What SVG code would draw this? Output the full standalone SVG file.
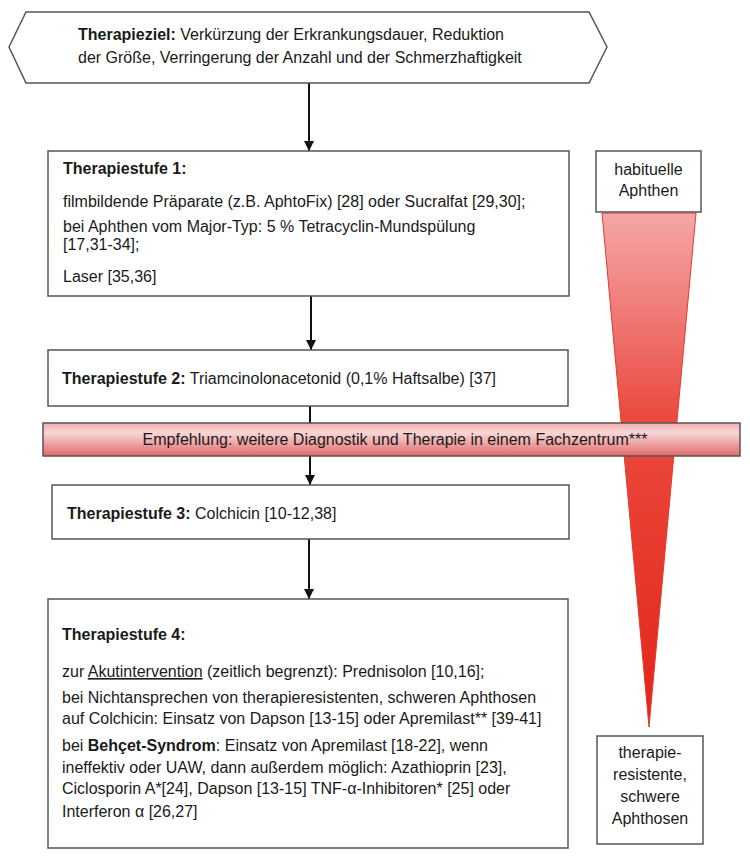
<svg xmlns="http://www.w3.org/2000/svg" width="750" height="863" viewBox="0 0 750 863">
  <style>
    .box { fill: #ffffff; stroke: #555555; stroke-width: 1.5; }
    .t { font-family: "Liberation Sans", Arial, sans-serif; font-size: 16px; fill: #1a1a1a; }
    .b { font-weight: bold; }
    .c { text-anchor: middle; }
    .conn { stroke: #111111; stroke-width: 2; fill: none; marker-end: url(#arrow); }
  </style>
  <defs>
    <marker id="arrow" viewBox="0 0 10 10" refX="10" refY="5" markerWidth="5" markerHeight="5" orient="auto" markerUnits="strokeWidth">
      <path d="M0,0 L10,5 L0,10 Z" fill="#111111"/>
    </marker>
    <linearGradient id="tri" x1="0" y1="213" x2="0" y2="727" gradientUnits="userSpaceOnUse">
      <stop offset="0" stop-color="#f5a7a7"/>
      <stop offset="0.22" stop-color="#ef7470"/>
      <stop offset="0.4" stop-color="#eb4a3c"/>
      <stop offset="1" stop-color="#e3241a"/>
    </linearGradient>
    <linearGradient id="ban" x1="0" y1="0" x2="0" y2="1">
      <stop offset="0" stop-color="#f4acac"/>
      <stop offset="0.3" stop-color="#f9d6d6"/>
      <stop offset="1" stop-color="#e06868"/>
    </linearGradient>
  </defs>

  <g id="severity-wedge">
    <polygon points="602,213 696,213 649,727" fill="url(#tri)" stroke="#e23a30" stroke-width="1"/>
  </g>

  <g id="connectors">
    <line class="conn" x1="309" y1="83" x2="309" y2="151"/>
    <line class="conn" x1="311" y1="296" x2="311" y2="350"/>
    <line class="conn" x1="310" y1="406" x2="310" y2="485"/>
    <line class="conn" x1="309" y1="539" x2="309" y2="599"/>
  </g>

  <g id="goal">
    <polygon class="box" points="26,12 589,12 607,47 589,83 26,83 9,47" stroke="#666666"/>
    <text class="t" x="78" y="40"><tspan class="b">Therapieziel:</tspan> Verkürzung der Erkrankungsdauer, Reduktion</text>
    <text class="t" x="78" y="63">der Größe, Verringerung der Anzahl und der Schmerzhaftigkeit</text>
  </g>

  <g id="stage1">
    <rect class="box" x="48" y="151" width="521" height="145"/>
    <text class="t b" x="63" y="174">Therapiestufe 1:</text>
    <text class="t" x="63" y="207">filmbildende Präparate (z.B. AphtoFix) [28] oder Sucralfat [29,30];</text>
    <text class="t" x="63" y="232">bei Aphthen vom Major-Typ: 5 % Tetracyclin-Mundspülung</text>
    <text class="t" x="63" y="250">[17,31-34];</text>
    <text class="t" x="63" y="282">Laser [35,36]</text>
  </g>

  <g id="stage2">
    <rect class="box" x="48" y="350" width="520" height="56"/>
    <text class="t" x="62" y="384"><tspan class="b">Therapiestufe 2:</tspan> Triamcinolonacetonid (0,1% Haftsalbe) [37]</text>
  </g>

  <g id="recommendation">
    <rect x="43" y="423" width="697" height="33" fill="url(#ban)" stroke="#555555" stroke-width="1.5"/>
    <text class="t c" x="395" y="445">Empfehlung: weitere Diagnostik und Therapie in einem Fachzentrum***</text>
  </g>

  <g id="stage3">
    <rect class="box" x="52" y="485" width="517" height="54"/>
    <text class="t" x="67" y="519"><tspan class="b">Therapiestufe 3:</tspan> Colchicin [10-12,38]</text>
  </g>

  <g id="stage4">
    <rect class="box" x="48" y="599" width="520" height="249"/>
    <text class="t b" x="62" y="640">Therapiestufe 4:</text>
    <text class="t" x="62" y="677">zur <tspan text-decoration="underline">Akutintervention</tspan> (zeitlich begrenzt): Prednisolon [10,16];</text>
    <text class="t" x="62" y="703">bei Nichtansprechen von therapieresistenten, schweren Aphthosen</text>
    <text class="t" x="62" y="724">auf Colchicin: Einsatz von Dapson [13-15] oder Apremilast** [39-41]</text>
    <text class="t" x="62" y="751">bei <tspan class="b">Behçet-Syndrom</tspan>: Einsatz von Apremilast [18-22], wenn</text>
    <text class="t" x="62" y="773">ineffektiv oder UAW, dann außerdem möglich: Azathioprin [23],</text>
    <text class="t" x="62" y="794">Ciclosporin A*[24], Dapson [13-15] TNF-α-Inhibitoren* [25] oder</text>
    <text class="t" x="62" y="817">Interferon α [26,27]</text>
  </g>

  <g id="habitual">
    <rect class="box" x="596" y="151" width="105" height="61"/>
    <text class="t c" x="648.5" y="175">habituelle</text>
    <text class="t c" x="648.5" y="196">Aphthen</text>
  </g>

  <g id="resistant">
    <rect class="box" x="597" y="736" width="106" height="108"/>
    <text class="t c" x="650" y="758">therapie-</text>
    <text class="t c" x="650" y="780">resistente,</text>
    <text class="t c" x="650" y="802">schwere</text>
    <text class="t c" x="650" y="824">Aphthosen</text>
  </g>
</svg>
